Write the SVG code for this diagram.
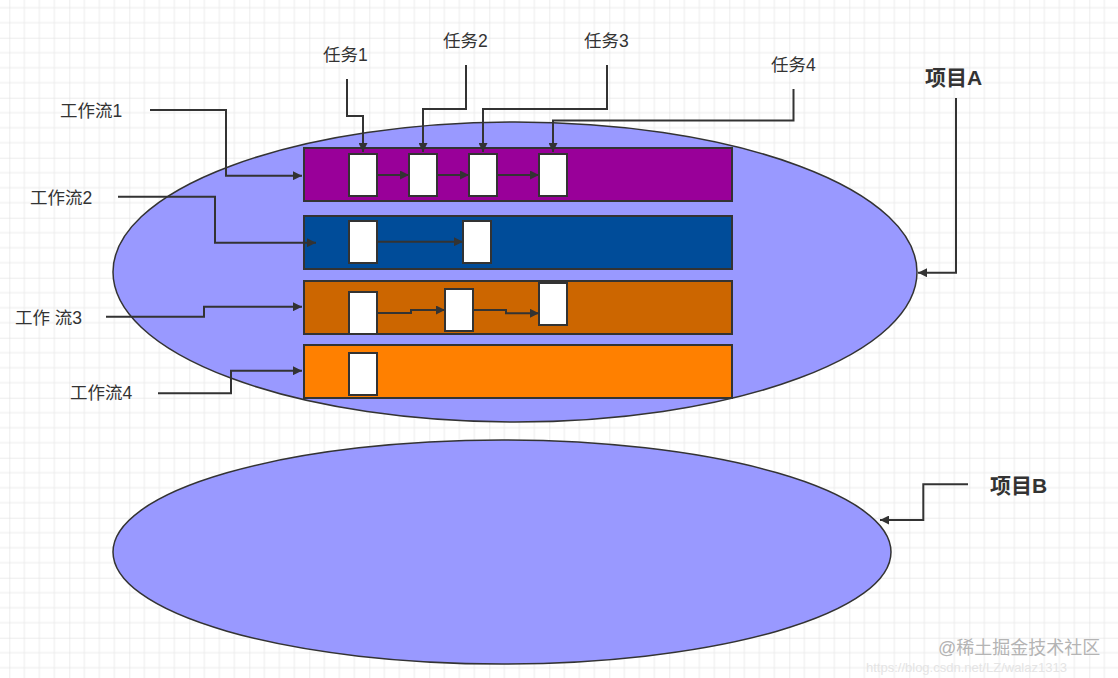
<svg xmlns="http://www.w3.org/2000/svg" width="1118" height="678" viewBox="0 0 1118 678">
<style>
.lbl{font-family:"Liberation Sans","Noto Sans CJK SC",sans-serif;font-size:17.5px;fill:#333;}
.proj{font-family:"Liberation Sans","Noto Sans CJK SC",sans-serif;font-size:21px;font-weight:bold;fill:#333;}
.ell{fill:#9999ff;stroke:#333;stroke-width:1.5;}
.bar{stroke:#333;stroke-width:2;}
.task{fill:#fff;stroke:#333;stroke-width:2;}
.conn{fill:none;stroke:#333;stroke-width:2;}
.wm{font-family:"Liberation Sans","Noto Sans CJK SC",sans-serif;fill:#b4b4b4;}
</style>
<defs>
<pattern id="grid" patternUnits="userSpaceOnUse" x="9.3" y="-22.3" width="60" height="60">
<path d="M15 0V60M30 0V60M45 0V60M0 15H60M0 30H60M0 45H60" stroke="#ececec" stroke-width="1" fill="none"/>
<path d="M0 0V60M0 0H60" stroke="#dcdcdc" stroke-width="1" fill="none"/>
</pattern>
<marker id="arr" viewBox="0 0 10 10" refX="10" refY="5" markerWidth="11" markerHeight="9" markerUnits="userSpaceOnUse" orient="auto">
<path d="M0 0L10 5L0 10z" fill="#333"/>
</marker>
</defs>
<rect width="1118" height="678" fill="#fff"/>
<rect width="1118" height="678" fill="url(#grid)"/>

<g id="projectA">
<ellipse class="ell" cx="515" cy="272" rx="402" ry="150"/>
</g>
<g id="projectB">
<ellipse class="ell" cx="502" cy="552" rx="389" ry="112"/>
</g>

<g id="workflow1">
<rect class="bar" x="304" y="148" width="428" height="53" fill="#990099"/>
</g>
<g id="workflow2">
<rect class="bar" x="304" y="216" width="428" height="53" fill="#004c99"/>
</g>
<g id="workflow3">
<rect class="bar" x="304" y="281" width="428" height="53" fill="#cc6600"/>
</g>
<g id="workflow4">
<rect class="bar" x="304" y="345" width="428" height="53" fill="#ff8000"/>
</g>

<g id="tasks-wf1">
<rect class="task" x="349" y="154" width="28" height="42"/>
<rect class="task" x="409" y="154" width="28" height="42"/>
<rect class="task" x="469" y="154" width="28" height="42"/>
<rect class="task" x="539" y="154" width="28" height="42"/>
</g>
<g id="tasks-wf2">
<rect class="task" x="349" y="221" width="28" height="42"/>
<rect class="task" x="463" y="221" width="28" height="42"/>
</g>
<g id="tasks-wf3">
<rect class="task" x="349" y="292" width="28" height="42"/>
<rect class="task" x="445" y="289" width="28" height="42"/>
<rect class="task" x="539" y="283" width="28" height="42"/>
</g>
<g id="tasks-wf4">
<rect class="task" x="349" y="353" width="28" height="42"/>
</g>

<g id="labels">
<text class="lbl" x="60" y="117">工作流1</text>
<text class="lbl" x="30" y="204">工作流2</text>
<text class="lbl" x="15" y="324">工作 流3</text>
<text class="lbl" x="70" y="399">工作流4</text>
<text class="lbl" x="323" y="61">任务1</text>
<text class="lbl" x="443" y="47">任务2</text>
<text class="lbl" x="584" y="47">任务3</text>
<text class="lbl" x="771" y="71">任务4</text>
<text class="proj" x="925" y="85">项目A</text>
<text class="proj" x="990" y="493">项目B</text>
</g>

<g id="connectors">
<path class="conn" d="M377 175H409" marker-end="url(#arr)"/>
<path class="conn" d="M437 175H469" marker-end="url(#arr)"/>
<path class="conn" d="M497 175H539" marker-end="url(#arr)"/>
<path class="conn" d="M377 241.7H463" marker-end="url(#arr)"/>
<path class="conn" d="M377 313H411V310H445" marker-end="url(#arr)" stroke-width="1.5"/>
<path class="conn" d="M473 310H506V313.3H539" marker-end="url(#arr)" stroke-width="1.5"/>

<path class="conn" d="M150 110H226V175.7H302" marker-end="url(#arr)"/>
<path class="conn" d="M118 196.7H215V242.7H316" marker-end="url(#arr)"/>
<path class="conn" d="M106 316.7H204V306.7H302" marker-end="url(#arr)"/>
<path class="conn" d="M158 393.3H231V370.7H302" marker-end="url(#arr)"/>

<path class="conn" d="M347 79V116H363V152" marker-end="url(#arr)"/>
<path class="conn" d="M466 65V109H423V152" marker-end="url(#arr)"/>
<path class="conn" d="M607 65V109H483V152" marker-end="url(#arr)"/>
<path class="conn" d="M793.5 89V120.5H553V152" marker-end="url(#arr)"/>

<path class="conn" d="M956 98V272.7H918" marker-end="url(#arr)"/>
<path class="conn" d="M968 484.3H923.3V520H880" marker-end="url(#arr)"/>
</g>

<g id="watermark">
<text class="wm" x="938" y="654" font-size="18">@稀土掘金技术社区</text>
<text class="wm" x="866" y="672" font-size="13" style="fill:#e4e4e4">https://blog.csdn.net/LZ/walaz1313</text>
</g>
</svg>
